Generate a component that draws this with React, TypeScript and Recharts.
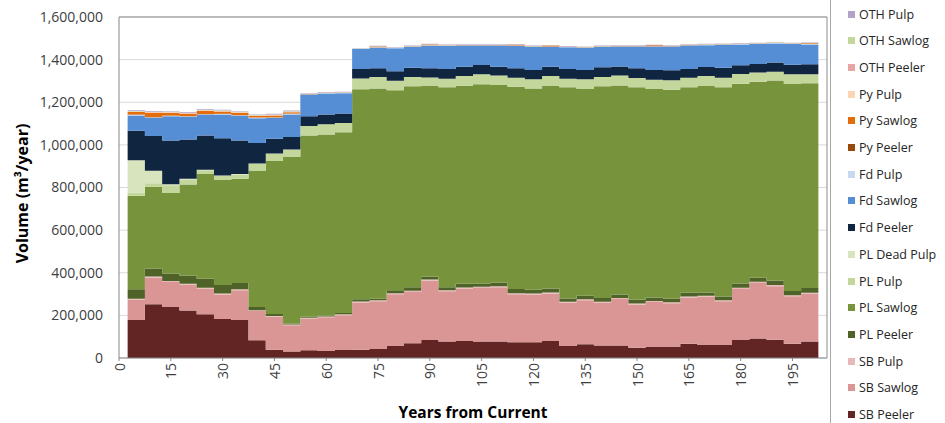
import { AreaChart, Area, XAxis, YAxis, CartesianGrid } from "recharts";

// harvest periods, mid-year of each 5-year step
const periodMid = [
  5, 10, 15, 20, 25, 30, 35, 40, 45, 50, 55, 60, 65, 70, 75, 80, 85, 90, 95, 100,
  105, 110, 115, 120, 125, 130, 135, 140, 145, 150, 155, 160, 165, 170, 175, 180, 185, 190, 195, 200,
];

const xTicks = [0, 15, 30, 45, 60, 75, 90, 105, 120, 135, 150, 165, 180, 195];
const yTicks = [0, 200000, 400000, 600000, 800000, 1000000, 1200000, 1400000, 1600000];

// volumes in thousands of m3/year
const sbPeeler = [178, 252, 239, 223, 205, 183, 178, 83, 39, 30, 36, 33, 37, 39, 42, 56, 69, 84, 78, 80, 77, 77, 74, 74, 80, 56, 64, 59, 59, 48, 52, 52, 67, 61, 61, 84, 92, 86, 67, 77];
const sbSawlog = [96, 125, 118, 121, 121, 115, 140, 137, 155, 124, 149, 158, 164, 221, 224, 243, 241, 278, 235, 246, 252, 255, 225, 224, 222, 203, 207, 200, 218, 203, 211, 205, 217, 226, 205, 240, 260, 251, 223, 224];
const sbPulp = [4, 5, 4, 4, 4, 5, 4, 4, 3, 3, 4, 4, 4, 5, 5, 5, 5, 6, 5, 5, 5, 5, 5, 5, 5, 5, 5, 5, 5, 5, 5, 5, 5, 5, 5, 6, 6, 6, 5, 5];
const plPeeler = [44, 38, 36, 39, 42, 40, 30, 15, 10, 5, 5, 5, 6, 11, 7, 14, 17, 14, 14, 17, 14, 16, 20, 17, 19, 15, 16, 17, 16, 18, 16, 16, 17, 15, 18, 19, 18, 20, 19, 23];
const plSawlog = [439, 384, 377, 427, 491, 492, 489, 638, 717, 781, 850, 849, 848, 985, 987, 938, 943, 894, 938, 930, 936, 928, 949, 945, 950, 991, 970, 994, 981, 996, 978, 981, 964, 969, 981, 938, 920, 939, 972, 960];
const plPulp = [14, 16, 37, 24, 18, 19, 20, 34, 35, 34, 44, 48, 44, 51, 53, 45, 43, 40, 40, 45, 47, 44, 42, 43, 47, 40, 46, 43, 46, 44, 44, 44, 45, 47, 45, 45, 44, 41, 45, 42];
const plDeadPulp = [153, 59, 4, 3, 2, 2, 2, 2, 1, 1, 0, 0, 0, 0, 0, 0, 0, 0, 0, 0, 0, 0, 0, 0, 0, 0, 0, 0, 0, 0, 0, 0, 0, 0, 0, 0, 0, 0, 0, 0];
const fdPeeler = [138, 163, 205, 184, 161, 175, 157, 96, 69, 59, 46, 45, 44, 44, 41, 45, 44, 44, 46, 44, 44, 42, 44, 43, 44, 46, 43, 46, 43, 45, 45, 47, 41, 42, 47, 42, 40, 43, 45, 47];
const fdSawlog = [72, 85, 114, 106, 97, 111, 116, 116, 97, 106, 102, 99, 95, 94, 97, 107, 98, 105, 108, 99, 91, 99, 105, 109, 93, 102, 105, 96, 93, 102, 110, 111, 110, 103, 108, 97, 93, 90, 97, 93];
const fdPulp = [3, 3, 3, 3, 3, 3, 3, 3, 3, 3, 2, 2, 2, 2, 2, 2, 2, 2, 2, 2, 2, 2, 2, 2, 2, 2, 2, 2, 2, 2, 2, 2, 2, 2, 2, 2, 2, 2, 2, 2];
const pyPeeler = [1, 1, 1, 1, 1, 1, 1, 1, 1, 1, 0, 0, 0, 0, 0, 0, 0, 0, 0, 0, 0, 0, 0, 0, 0, 0, 0, 0, 0, 0, 0, 0, 0, 0, 0, 0, 0, 0, 0, 0];
const pySawlog = [12, 20, 12, 11, 14, 11, 10, 6, 8, 6, 1, 2, 2, 0, 4, 0, 1, 4, 2, 1, 1, 1, 4, 1, 4, 1, 1, 1, 1, 1, 4, 1, 1, 1, 1, 1, 1, 1, 1, 4];
const pyPulp = [2, 2, 2, 2, 2, 2, 2, 2, 2, 2, 0, 0, 0, 0, 0, 0, 0, 0, 0, 0, 0, 0, 0, 0, 0, 0, 0, 0, 0, 0, 0, 0, 0, 0, 0, 0, 0, 0, 0, 0];
const othPeeler = [1, 1, 1, 1, 1, 1, 1, 1, 1, 1, 0, 0, 0, 0, 0, 0, 0, 0, 0, 0, 0, 0, 0, 0, 0, 0, 0, 0, 0, 0, 0, 0, 0, 0, 0, 0, 0, 0, 0, 0];
const othSawlog = [2, 2, 2, 2, 2, 2, 2, 2, 2, 2, 1, 1, 1, 1, 1, 1, 1, 1, 1, 1, 1, 1, 1, 1, 1, 1, 1, 1, 1, 1, 1, 1, 1, 1, 1, 1, 1, 1, 1, 1];
const othPulp = [3, 3, 3, 3, 3, 3, 3, 3, 3, 3, 2, 2, 2, 2, 2, 2, 2, 2, 2, 2, 2, 2, 2, 2, 2, 2, 2, 2, 2, 2, 2, 2, 2, 2, 2, 2, 2, 2, 2, 2];

// bottom of stack first
const series = [
  { key: "sbPeeler", name: "SB Peeler", color: "#632523", values: sbPeeler },
  { key: "sbSawlog", name: "SB Sawlog", color: "#d99694", values: sbSawlog },
  { key: "sbPulp", name: "SB Pulp", color: "#e6b9b8", values: sbPulp },
  { key: "plPeeler", name: "PL Peeler", color: "#4f6228", values: plPeeler },
  { key: "plSawlog", name: "PL Sawlog", color: "#77933c", values: plSawlog },
  { key: "plPulp", name: "PL Pulp", color: "#c3d69b", values: plPulp },
  { key: "plDeadPulp", name: "PL Dead Pulp", color: "#d7e4bd", values: plDeadPulp },
  { key: "fdPeeler", name: "Fd Peeler", color: "#10253f", values: fdPeeler },
  { key: "fdSawlog", name: "Fd Sawlog", color: "#558ed5", values: fdSawlog },
  { key: "fdPulp", name: "Fd Pulp", color: "#c6d9f1", values: fdPulp },
  { key: "pyPeeler", name: "Py Peeler", color: "#984807", values: pyPeeler },
  { key: "pySawlog", name: "Py Sawlog", color: "#e46c0a", values: pySawlog },
  { key: "pyPulp", name: "Py Pulp", color: "#fcd5b5", values: pyPulp },
  { key: "othPeeler", name: "OTH Peeler", color: "#e6a5a4", values: othPeeler },
  { key: "othSawlog", name: "OTH Sawlog", color: "#c3d69b", values: othSawlog },
  { key: "othPulp", name: "OTH Pulp", color: "#b3a2c7", values: othPulp },
];

const rows: any[] = periodMid.map((mid, i) => {
  const row: any = { x: mid - 2.5 };
  series.forEach((s) => {
    row[s.key] = s.values[i] * 1000;
  });
  return row;
});
// close the last step
rows.push({ ...rows[rows.length - 1], x: periodMid[periodMid.length - 1] + 2.5 });

const FONT = "'Open Sans', sans-serif";

const XTick = ({ x, y, payload }: any) => (
  <text
    x={x}
    y={y}
    transform={`rotate(-90, ${x}, ${y})`}
    textAnchor="end"
    dominantBaseline="central"
    fontSize={14}
    fontFamily={FONT}
    fill="#404040"
  >
    {payload.value}
  </text>
);

const YTitle = ({ viewBox }: any) => {
  const cx = viewBox.x + 22;
  const cy = viewBox.y + viewBox.height / 2 + 6;
  return (
    <text
      x={cx}
      y={cy}
      transform={`rotate(-90, ${cx}, ${cy})`}
      textAnchor="middle"
      dominantBaseline="central"
      fontSize={16}
      fontWeight="bold"
      fontFamily={FONT}
      fill="#000"
    >
      Volume (m³/year)
    </text>
  );
};

export default function App() {
  return (
    <div style={{ position: "absolute", left: 0, top: 0, width: 945, height: 423, background: "#fff", overflow: "hidden" }}>
      <AreaChart
        width={830}
        height={423}
        data={rows}
        margin={{ top: 16, right: 2, bottom: 0, left: 0 }}
      >
        <CartesianGrid vertical={false} stroke="#d9d9d9" />
        <XAxis
          dataKey="x"
          type="number"
          domain={[0, 205]}
          ticks={xTicks}
          interval={0}
          height={65}
          tick={<XTick />}
          tickSize={3}
          tickMargin={2}
          stroke="#868686"
          label={{
            value: "Years from Current",
            position: "insideBottom",
            offset: 5,
            style: { fontSize: 15.5, fontWeight: "bold", fontFamily: FONT, fill: "#000" },
          }}
        />
        <YAxis
          domain={[0, 1600000]}
          ticks={yTicks}
          interval={0}
          width={119}
          tickSize={0}
          tickMargin={16}
          stroke="#868686"
          tick={{ fontSize: 14, fontFamily: FONT, fill: "#404040" }}
          tickFormatter={(v: number) => v.toLocaleString("en-US")}
          label={<YTitle />}
        />
        <XAxis xAxisId="top" orientation="top" type="number" domain={[0, 205]} height={1} tick={false} tickLine={false} stroke="#8c8c8c" />
        <YAxis yAxisId="right" orientation="right" domain={[0, 1600000]} width={1} tick={false} tickLine={false} stroke="#8c8c8c" />
        {series.map((s) => (
          <Area
            key={s.key}
            dataKey={s.key}
            name={s.name}
            type="stepAfter"
            stackId="vol"
            stroke="none"
            fill={s.color}
            fillOpacity={1}
            isAnimationActive={false}
          />
        ))}
      </AreaChart>

      <div
        style={{
          position: "absolute",
          left: 830,
          top: -1,
          width: 120,
          height: 430,
          border: "1px solid #a6a6a6",
          boxSizing: "border-box",
          fontFamily: FONT,
          fontSize: 12.5,
          color: "#262626",
        }}
      >
        {[...series].reverse().map((s, i) => (
          <div
            key={s.key}
            style={{ position: "absolute", left: 17, top: 6 + i * 26.7, height: 16, display: "flex", alignItems: "center", whiteSpace: "nowrap" }}
          >
            <span style={{ width: 7, height: 7, background: s.color, marginRight: 4, display: "inline-block" }} />
            {s.name}
          </div>
        ))}
      </div>
    </div>
  );
}
